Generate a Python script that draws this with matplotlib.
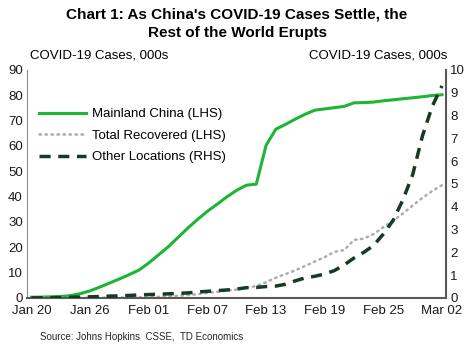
import numpy as np
import pandas as pd
import matplotlib
matplotlib.use("Agg")
import matplotlib.pyplot as plt
import matplotlib.dates as mdates

plt.rcParams["font.family"] = ["Liberation Sans", "DejaVu Sans"]

dates = pd.date_range("2020-01-20", "2020-03-02", freq="D")

# 000s
china = [0.28, 0.33, 0.45, 0.6, 0.9, 1.7, 2.8, 4.3, 5.9, 7.5, 9.2, 11.0,
         13.8, 17.0, 20.2, 23.9, 27.6, 31.0, 34.2, 37.0, 39.9, 42.5, 44.5,
         44.9, 60.2, 66.6, 68.5, 70.6, 72.5, 74.1, 74.6, 75.1, 75.6, 77.0,
         77.1, 77.3, 77.8, 78.2, 78.6, 79.0, 79.4, 79.9, 80.2]
recovered = [0.0, 0.01, 0.03, 0.03, 0.04, 0.04, 0.05, 0.06, 0.1, 0.13, 0.14,
             0.2, 0.28, 0.45, 0.6, 0.85, 1.1, 1.5, 2.0, 2.4, 2.9, 3.3, 4.0,
             4.7, 6.2, 8.0, 9.4, 10.9, 12.6, 14.4, 16.1, 18.2, 18.9, 22.9,
             23.4, 25.2, 27.9, 30.4, 33.3, 36.5, 39.5, 42.2, 44.5]
other = [0.005, 0.007, 0.01, 0.015, 0.03, 0.04, 0.05, 0.06, 0.08, 0.09, 0.11,
         0.13, 0.15, 0.16, 0.18, 0.2, 0.22, 0.26, 0.29, 0.32, 0.35, 0.39,
         0.45, 0.46, 0.5, 0.52, 0.6, 0.75, 0.88, 0.95, 1.05, 1.2, 1.45, 1.75,
         2.0, 2.3, 2.8, 3.4, 4.3, 5.4, 7.1, 8.4, 9.3]

tick_dates = pd.date_range("2020-01-20", "2020-03-02", freq="6D")

fig = plt.figure(figsize=(4.74, 3.53), dpi=100)
ax = fig.add_axes([0.057, 0.156, 0.884, 0.646])
ax2 = ax.twinx()

l1, = ax.plot(dates, china, color="#1db534", lw=2.2, label="Mainland China (LHS)")
l2, = ax.plot(dates, recovered, color="#acacac", lw=1.8, ls=(0, (0.6, 1.8)),
              dash_capstyle="round", label="Total Recovered (LHS)")
l3, = ax2.plot(dates, other, color="#173a24", lw=2.5, ls=(0, (3.2, 2.2)),
               label="Other Locations (RHS)")

ax.set_ylim(0, 90)
ax.set_yticks(np.arange(0, 91, 10))
ax2.set_ylim(0, 10)
ax2.set_yticks(np.arange(0, 11, 1))
ax.set_xlim(dates[0] - pd.Timedelta(hours=11), dates[-1] + pd.Timedelta(hours=10))
ax.set_xticks(tick_dates)
ax.xaxis.set_major_formatter(mdates.DateFormatter("%b %d"))

for a in (ax, ax2):
    a.tick_params(length=0, labelsize=9.5, colors="#1a1a1a", pad=3)
    a.spines["top"].set_visible(False)
ax.spines["left"].set_color("#8c8c8c")
ax.spines["left"].set_linewidth(0.8)
ax2.spines["left"].set_visible(False)
ax2.spines["bottom"].set_visible(False)
ax.spines["bottom"].set_color("#595959")
ax.spines["bottom"].set_linewidth(1.5)
ax2.spines["right"].set_color("#595959")
ax2.spines["right"].set_linewidth(1.5)
ax.spines["right"].set_visible(False)
ax.tick_params(axis="x", pad=5)

ax.legend(handles=[l1, l2, l3], loc="upper left", bbox_to_anchor=(0.0, 0.885),
          frameon=False, fontsize=9.5, handlelength=3.6, labelspacing=0.7,
          handletextpad=0.45)

fig.text(0.5, 0.98, "Chart 1: As China's COVID-19 Cases Settle, the\nRest of the World Erupts",
         ha="center", va="top", fontsize=11, fontweight="bold", linespacing=1.45)
fig.text(0.063, 0.825, "COVID-19 Cases, 000s", ha="left", va="bottom", fontsize=9.5)
fig.text(0.944, 0.825, "COVID-19 Cases, 000s", ha="right", va="bottom", fontsize=9.5)
fig.text(0.085, 0.045, "Source: Johns Hopkins  CSSE,  TD Economics", ha="left",
         va="center", fontsize=7, color="#262626")

fig.savefig("out.png", dpi=100)
